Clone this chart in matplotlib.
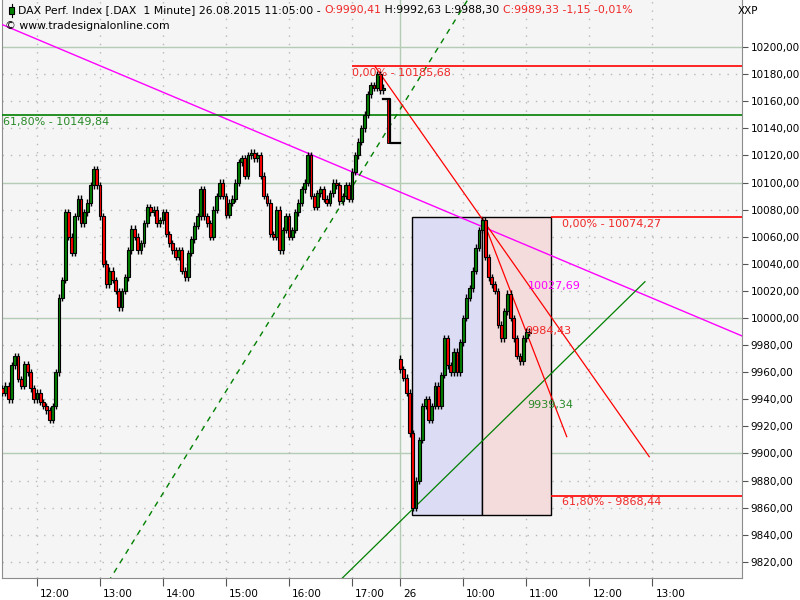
import matplotlib
matplotlib.use("Agg")
import matplotlib.pyplot as plt
from matplotlib.patches import Rectangle
import matplotlib.transforms as mtransforms
import numpy as np

# ---- data (3-minute bars) ----
day1_open = 9948
day1_close = [9945, 9950, 9940, 9965, 9972, 9955, 9950, 9966, 9960, 9948,
              9940, 9945, 9938, 9935, 9932, 9925, 9935, 9960, 10015, 10028,
              10078, 10060, 10048, 10075, 10088, 10070, 10078, 10085, 10098, 10110,
              10098, 10075, 10040, 10025, 10035, 10028, 10020, 10008, 10020, 10030,
              10050, 10066, 10060, 10050, 10055, 10070, 10082, 10078, 10080, 10070,
              10072, 10078, 10062, 10055, 10050, 10045, 10050, 10035, 10030, 10048,
              10058, 10068, 10075, 10095, 10075, 10070, 10060, 10080, 10090, 10100,
              10090, 10076, 10085, 10088, 10100, 10115, 10118, 10105, 10120, 10122,
              10118, 10120, 10105, 10090, 10085, 10062, 10060, 10080, 10050, 10065,
              10075, 10060, 10065, 10078, 10085, 10095, 10100, 10120, 10090, 10082,
              10092, 10095, 10088, 10085, 10092, 10100, 10098, 10086, 10090, 10098,
              10088, 10108, 10120, 10130, 10140, 10150, 10165, 10172, 10170, 10180,
              10168, 10170]
post_close = [10162, 10129]          # closing auction / after close
day2_open = 9970
day2_close = [9962, 9956, 9945, 9915, 9860, 9880, 9910, 9935, 9940, 9925,
              9935, 9950, 9935, 9958, 9985, 9965, 9960, 9975, 9960, 9982,
              10000, 10015, 10022, 10035, 10052, 10065, 10072, 10045, 10030, 10025,
              10020, 9995, 9985, 10005, 10018, 10000, 9985, 9972, 9968, 9985,
              9990, 9989]

# drawing-tool values (minutes since 09:00 of day 1, day 2 starts at 526)
DAY2 = 526
magenta_pts = [(176.2, 10207.0), (525.7, 10093.0)]
green_dash_pts = [(333.3, 9912.4), (460.7, 10072.3)]
green_line_pts = [(532.1, 9854.6), (759.0, 10026.8)]
red_long_pts = [(501.9, 10185.68), (763.1, 9897.6)]
red_steep_pts = [(603.8, 10074.27), (684.5, 9912.4)]
fib1 = [10185.68, 10149.84]
fib2 = [10074.27, 9868.44]
box_low = 9854.6
box_t = [537.1, 603.8, 669.5]

xtick_pos = [180, 240, 300, 360, 420, 480, DAY2, DAY2 + 60, DAY2 + 120, DAY2 + 180, DAY2 + 240]
xtick_lab = ['12:00', '13:00', '14:00', '15:00', '16:00', '17:00', '26', '10:00', '11:00', '12:00', '13:00']

WICK = 2.5
XMIN, XMAX = 146.7, 851.4
YMIN, YMAX = 9808.1, 10234.7

fig = plt.figure(figsize=(8, 6), dpi=100)
fig.patch.set_facecolor('white')
ax = fig.add_axes([2 / 800, 22 / 600, 740 / 800, 578 / 600])
ax.set_facecolor('#f5f5f5')
ax.set_xlim(XMIN, XMAX)
ax.set_ylim(YMIN, YMAX)

# grid
for y in range(9820, 10201, 20):
    if y % 100 == 0:
        ax.axhline(y, color='#b4ccb4', lw=1, zorder=1)
    else:
        ax.axhline(y, color='#b8b8b8', lw=1, ls=(0, (1, 5)), zorder=1)
for x in xtick_pos:
    if x == DAY2:
        ax.axvline(x, color='#b4ccb4', lw=1, zorder=1)
    else:
        ax.axvline(x, color='#b8b8b8', lw=1, ls=(0, (1, 5)), zorder=1)

# boxes
ax.add_patch(Rectangle((box_t[0], box_low), box_t[1] - box_t[0], fib2[0] - box_low,
                       facecolor='#dcdcf4', edgecolor='black', lw=1, zorder=2))
ax.add_patch(Rectangle((box_t[1], box_low), box_t[2] - box_t[1], fib2[0] - box_low,
                       facecolor='#f4dcdc', edgecolor='black', lw=1, zorder=2))


def extend(pts, x0, x1):
    (ax_, ay), (bx, by) = pts
    k = (by - ay) / (bx - ax_)
    return [x0, x1], [ay + k * (x0 - ax_), ay + k * (x1 - ax_)]


# trend lines
xs, ys = extend(magenta_pts, XMIN, XMAX)
ax.plot(xs, ys, color='#ff00ff', lw=1, zorder=3)
xs, ys = extend(green_dash_pts, XMIN, XMAX)
ax.plot(xs, ys, color='#008000', lw=1, ls=(0, (4, 4)), zorder=3)
xs, ys = extend(green_line_pts, 450, green_line_pts[1][0])
ax.plot(xs, ys, color='#008000', lw=0.9, zorder=3)
ax.plot(*zip(*red_long_pts), color='#ff0000', lw=0.9, zorder=3)
ax.plot(*zip(*red_steep_pts), color='#ff0000', lw=0.9, zorder=3)

# fib levels
ax.hlines(fib1[0], 480, XMAX, color='#ff0000', lw=1.2, zorder=3)
ax.axhline(fib1[1], color='#008000', lw=1.2, zorder=3)
ax.hlines(fib2, box_t[2], XMAX, color='#ff0000', lw=1.2, zorder=3)


# candles
def draw_candles(t0, first_open, closes):
    times = t0 + 3 * np.arange(len(closes))
    closes = np.array(closes, dtype=float)
    opens = np.concatenate([[first_open], closes[:-1]])
    hi = np.maximum(opens, closes) + WICK
    lo = np.minimum(opens, closes) - WICK
    ax.vlines(times, lo, hi, color='black', lw=1.0, zorder=4)
    cols = np.where(closes >= opens, '#008000', '#ff0000')
    h = closes - opens
    h = np.where(np.abs(h) < 1.0, 1.0, h)
    ax.bar(times, h, 2.7, bottom=opens, color=cols, edgecolor='black', lw=0.8, zorder=5)
    return times


t1 = draw_candles(147, day1_open, day1_close)
t_post = t1[-1] + 3
ax.bar([t_post + 2], [post_close[1] - post_close[0]], 3, bottom=post_close[0],
       color='#ff0000', edgecolor='black', lw=0.6, zorder=5)
ax.plot([t1[-1], t_post + 3.5, t_post + 3.5, DAY2 - 0.5],
        [post_close[0], post_close[0], post_close[1], post_close[1]],
        color='black', lw=1.6, zorder=6)
draw_candles(DAY2, day2_open, day2_close)

# labels on chart
red_txt = '#f02828'
ax.text(480, 10180.8, '0,00% - 10185,68', color=red_txt, fontsize=8, va='center', zorder=7)
ax.text(147.5, 10144.6, '61,80% - 10149,84', color='#2a8a2a', fontsize=8, va='center', zorder=7)
ax.text(680, 10069.4, '0,00% - 10074,27', color=red_txt, fontsize=8, va='center', zorder=7)
ax.text(680, 9864.2, '61,80% - 9868,44', color=red_txt, fontsize=8, va='center', zorder=7)
ax.text(647.6, 10023.6, '10027,69', color='#ff00ff', fontsize=8, va='center', zorder=7)
ax.text(644.8, 9990.4, '9984,43', color=red_txt, fontsize=8, va='center', zorder=7)
ax.text(646.7, 9935.8, '9939,34', color='#2a8a2a', fontsize=8, va='center', zorder=7)

# axes styling
ax.spines['top'].set_visible(False)
for s in ['left', 'right', 'bottom']:
    ax.spines[s].set_color('#8c8c8c')
ax.yaxis.tick_right()
ax.set_yticks(range(9820, 10201, 20))
ax.set_yticklabels([f'{v:.2f}'.replace('.', ',') for v in range(9820, 10201, 20)])
ax.tick_params(axis='y', length=4, width=0.8, color='#555555', pad=2, labelsize=7.5)
ax.set_xticks(xtick_pos)
ax.set_xticklabels(xtick_lab)
ax.tick_params(axis='x', length=6, width=0.8, color='#555555', pad=2, labelsize=7.5)
offset = mtransforms.ScaledTranslation(3 / 100, 0, fig.dpi_scale_trans)
for lbl in ax.get_xticklabels():
    lbl.set_ha('left')
    lbl.set_transform(lbl.get_transform() + offset)

fig.text(738 / 800, 1 - 11 / 600, 'XXP', fontsize=7.5, va='center')

# header line, multi-coloured
ax.add_patch(Rectangle((7 / 740, 1 - 14 / 578), 5 / 740, 7 / 578, transform=ax.transAxes,
                       facecolor='#008000', edgecolor='black', lw=0.8, zorder=8))
ax.plot([9.5 / 740, 9.5 / 740], [1 - 17 / 578, 1 - 4 / 578], transform=ax.transAxes,
        color='black', lw=0.8, zorder=7)
segments = [('DAX Perf. Index [.DAX  1 Minute] 26.08.2015 11:05:00 - ', 'black'),
            ('O:9990,41', red_txt), (' H:9992,63 L:9988,30 ', 'black'),
            ('C:9989,33 -1,15 -0,01%', red_txt)]
renderer = fig.canvas.get_renderer()
xpix = 18
for txt, col in segments:
    t = fig.text(xpix / 800, 1 - 10 / 600, txt, color=col, fontsize=7.8, va='center')
    xpix += t.get_window_extent(renderer).width
fig.text(5 / 800, 1 - 26 / 600, '\u00a9 www.tradesignalonline.com', fontsize=7.8, va='center')

fig.savefig('out.png', dpi=100)
